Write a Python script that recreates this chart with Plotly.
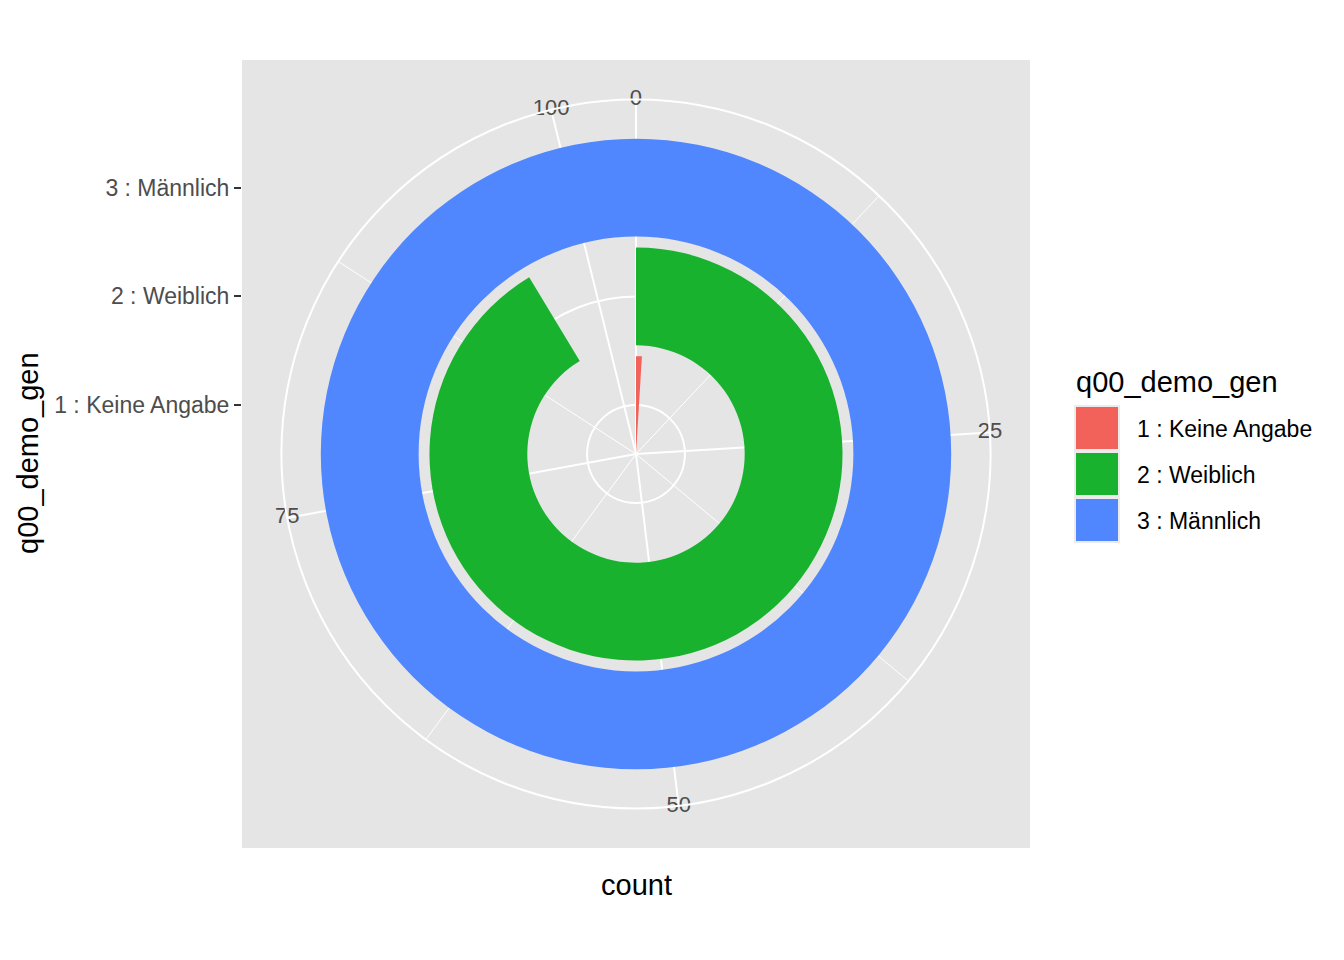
import plotly.graph_objects as go

# ---------------- data ----------------
categories = ["1 : Keine Angabe", "2 : Weiblich", "3 : Männlich"]
counts = [1, 95, 104]
fill_colors = ["#F2615A", "#19B22F", "#5087FF"]
theta_major = [0, 25, 50, 75, 100]
theta_minor = [12.5, 37.5, 62.5, 87.5]
theta_labels = ["0", "25", "50", "75", "100"]
legend_title = "q00_demo_gen"
x_title = "count"
y_title = "q00_demo_gen"

# ---------------- scales ----------------
THETA_MAX = max(counts)           # ggplot theta range [0, max]
BAR_W = 0.9
positions = list(range(1, len(categories) + 1))
r_lo = positions[0] - BAR_W / 2
r_hi = positions[-1] + BAR_W / 2
r_outer = r_lo + (r_hi - r_lo) * 0.45 / 0.4   # theta-label ring at 0.45 npc


def deg(v):
    return v * 360.0 / THETA_MAX


# ---------------- layout geometry (screen pixels) ----------------
W, H = 1344, 960
OFF = 8                                  # page body margin of the html page
PL, PR, PT, PB = 242, 1030, 60, 848     # panel box on screen
PW = PR - PL
PH = PB - PT


def px_x(x):
    return (x - PL) / PW


def px_y(y):
    return (PB - y) / PH


FONT = "Liberation Sans, Arial, Helvetica, sans-serif"
BG = "#E5E5E5"

fig = go.Figure()

# invisible cartesian trace so the left axis (category labels) is drawn
fig.add_trace(go.Scatter(x=[None], y=[None], showlegend=False, hoverinfo="skip"))

# dummy trace for the lower polar (minor grid)
fig.add_trace(go.Scatterpolar(subplot="polar", r=[r_lo], theta=[0], mode="markers",
                              marker=dict(opacity=0), showlegend=False, hoverinfo="skip"))

# bars
for pos, cat, cnt, col in zip(positions, categories, counts, fill_colors):
    fig.add_trace(go.Barpolar(
        subplot="polar2",
        r=[BAR_W], base=[pos - BAR_W / 2],
        theta=[deg(cnt) / 2], width=[deg(cnt)],
        marker=dict(color=col, line=dict(width=0)),
        name=cat, showlegend=False,
    ))

# theta labels sitting on the outer ring
fig.add_trace(go.Scatterpolar(
    subplot="polar2",
    r=[r_outer] * len(theta_major), theta=[deg(v) for v in theta_major],
    mode="text", text=theta_labels, textposition="middle center",
    textfont=dict(family=FONT, size=22, color="#4D4D4D"),
    cliponaxis=False, showlegend=False, hoverinfo="skip",
))

dom = [0.05, 0.95]
half_units = (r_outer - r_lo) / 0.9

ml = PL - OFF
mt = PT - OFF
mr = W - ml - PW
mb = H - mt - PH

fig.update_layout(
    width=W, height=H,
    margin=dict(l=ml, r=mr, t=mt, b=mb, pad=0),
    paper_bgcolor="white", plot_bgcolor=BG,
    font=dict(family=FONT),
    showlegend=False,
    xaxis=dict(domain=[0, 1], range=[0, 1], showticklabels=False, showgrid=False,
               zeroline=False, ticks="", showline=False, fixedrange=True),
    yaxis=dict(domain=[0, 1], range=[r_lo - half_units, r_lo + half_units],
               tickmode="array", tickvals=positions, ticktext=categories,
               ticks="outside", ticklen=7, tickwidth=2, tickcolor="#333333",
               tickfont=dict(family=FONT, size=23, color="#4D4D4D"),
               showgrid=False, zeroline=False, showline=False, fixedrange=True),
    polar=dict(
        domain=dict(x=dom, y=dom), bgcolor="rgba(0,0,0,0)",
        radialaxis=dict(range=[r_lo, r_outer], showgrid=False, showline=False,
                        showticklabels=False, ticks=""),
        angularaxis=dict(rotation=90, direction="clockwise", thetaunit="degrees",
                         tickmode="array", tickvals=[deg(v) for v in theta_minor],
                         showgrid=True, gridcolor="white", gridwidth=1,
                         showticklabels=False, ticks="", showline=False),
    ),
    polar2=dict(
        domain=dict(x=dom, y=dom), bgcolor="rgba(0,0,0,0)",
        radialaxis=dict(range=[r_lo, r_outer], tickmode="array", tickvals=positions,
                        showgrid=True, gridcolor="white", gridwidth=2,
                        showline=False, showticklabels=False, ticks=""),
        angularaxis=dict(rotation=90, direction="clockwise", thetaunit="degrees",
                         tickmode="array", tickvals=[deg(v) for v in theta_major],
                         showgrid=True, gridcolor="white", gridwidth=2,
                         showline=True, linecolor="white", linewidth=2,
                         showticklabels=False, ticks=""),
    ),
)

annotations = []
shapes = []

# axis titles
annotations.append(dict(text=x_title, x=px_x(636), y=px_y(885), xref="paper", yref="paper",
                        xanchor="center", yanchor="middle", showarrow=False,
                        font=dict(family=FONT, size=29, color="black")))
annotations.append(dict(text=y_title, x=px_x(28), y=px_y(453), xref="paper", yref="paper",
                        xanchor="center", yanchor="middle", textangle=-90, showarrow=False,
                        font=dict(family=FONT, size=29, color="black")))

# legend
annotations.append(dict(text=legend_title, x=px_x(1074), y=px_y(382), xref="paper", yref="paper",
                        xanchor="left", yanchor="middle", showarrow=False,
                        font=dict(family=FONT, size=29, color="black")))
KEY = 46
for k, (cat, col) in enumerate(zip(categories, fill_colors)):
    top = 405 + KEY * k
    shapes.append(dict(type="rect", xref="paper", yref="paper",
                       x0=px_x(1074), x1=px_x(1120), y0=px_y(top), y1=px_y(top + KEY),
                       fillcolor="#EBEBEB", line=dict(width=0), layer="above"))
    shapes.append(dict(type="rect", xref="paper", yref="paper",
                       x0=px_x(1076), x1=px_x(1118), y0=px_y(top + 2), y1=px_y(top + KEY - 2),
                       fillcolor=col, line=dict(width=0), layer="above"))
    annotations.append(dict(text=cat, x=px_x(1135), y=px_y(top + KEY / 2 + 1),
                            xref="paper", yref="paper", xanchor="left", yanchor="middle",
                            showarrow=False, font=dict(family=FONT, size=23, color="black")))

fig.update_layout(annotations=annotations, shapes=shapes)

fig.write_html("out.html")
